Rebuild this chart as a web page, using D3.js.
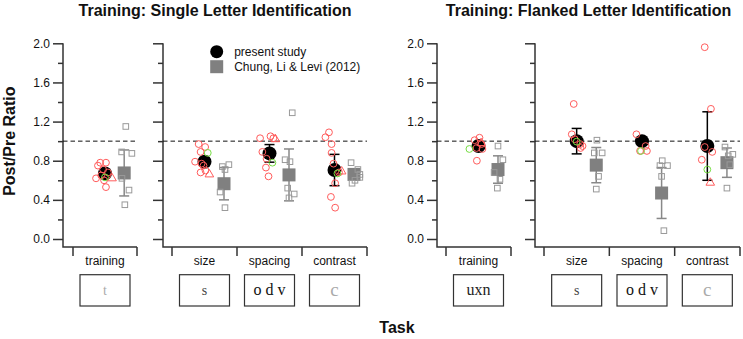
<!DOCTYPE html>
<html>
<head>
<meta charset="utf-8">
<script src="https://cdn.jsdelivr.net/npm/d3@7"></script>
<style>
    body { margin: 0; background: #fff; }
    svg { display: block; font-family: 'Liberation Sans', Arial, sans-serif; }
</style>
</head>
<body>
<svg id="chart" width="743" height="339"></svg>
<script>
// values, one entry per condition
const conditions = ['single-training', 'single-size', 'single-spacing', 'single-contrast',
    'flanked-training', 'flanked-size', 'flanked-spacing', 'flanked-contrast']
const taskLabels = ['training', 'size', 'spacing', 'contrast', 'training', 'size', 'spacing', 'contrast']
const stimulusText = ['t', 's', 'o d v', 'c', 'uxn', 's', 'o d v', 'c']
const panelTitles = ['Training: Single Letter Identification', 'Training: Flanked Letter Identification']
const legendLabels = ['present study', 'Chung, Li & Levi (2012)']
const yTicks = [0, 0.2, 0.4, 0.6, 0.8, 1.0, 1.2, 1.4, 1.6, 1.8, 2.0]
const yLabelled = [0, 0.4, 0.8, 1.2, 1.6, 2.0]

const presentMean = [0.67, 0.79, 0.875, 0.705, 0.95, 1.00, 1.00, 0.95]
const presentErr = [0.03, 0.04, 0.09, 0.16, 0.03, 0.13, 0.03, 0.35]
const chungMean = [0.675, 0.565, 0.655, 0.66, 0.71, 0.755, 0.47, 0.78]
const chungErr = [0.235, 0.165, 0.265, 0.05, 0.14, 0.18, 0.26, 0.15]

// individual observers: [ratio, jitter (fraction of half a category)]
const presentCircles = [
    [[0.78, -0.15], [0.78, 0.03], [0.75, -0.22], [0.71, -0.06], [0.68, 0.09], [0.65, -0.12], [0.62, -0.28], [0.60, -0.03], [0.53, 0.03]],
    [[0.97, -0.18], [0.94, 0.02], [0.89, -0.12], [0.79, -0.29], [0.77, -0.09], [0.75, -0.03], [0.68, -0.12], [0.70, 0.03]],
    [[1.03, -0.29], [1.05, 0.03], [1.03, 0.12], [0.89, -0.22], [0.82, -0.09], [0.73, -0.11], [0.64, -0.03]],
    [[1.09, -0.17], [1.04, -0.28], [0.97, -0.09], [0.88, -0.09], [0.77, -0.03], [0.68, 0.14], [0.57, 0.02], [0.43, -0.11], [0.32, 0.02]],
    [[1.01, -0.12], [1.035, 0.03], [0.97, 0.09], [0.93, -0.06], [0.92, 0.12], [0.80, -0.05]],
    [[1.38, -0.09], [1.07, -0.15], [1.02, -0.06], [0.97, 0.11], [0.95, 0.18], [0.93, 0.12]],
    [[1.07, -0.17], [0.90, -0.06], [0.90, 0.15], [0.95, 0.11]],
    [[1.96, -0.08], [1.33, 0.11], [0.94, -0.08], [0.89, 0.15], [0.81, -0.17]]
]
const presentTriangles = [
    [[0.62, 0.22]], [[0.66, 0.15]], [[1.02, 0.18]], [[0.69, 0.22]],
    [[0.98, 0.08]], [], [], [[0.575, 0.09]]
]
const presentGreen = [
    [[0.63, 0]], [[0.88, 0.1]], [[0.78, 0.09]], [[0.67, 0.09]],
    [[0.92, -0.28]], [[0.995, 0]], [[0.90, -0.03]], [[0.71, 0]]
]
const chungSquares = [
    [[1.15, 0.05], [0.89, -0.08], [0.875, 0.24], [0.62, -0.07], [0.50, 0.15], [0.35, 0.02]],
    [[0.76, 0.15], [0.74, -0.05], [0.71, 0.03], [0.48, -0.12], [0.32, 0.03]],
    [[1.29, 0.1], [0.81, -0.12], [0.79, 0.03], [0.52, -0.04], [0.46, 0.16], [0.42, 0]],
    [[0.78, -0.09], [0.71, 0.12], [0.66, 0.18], [0.63, 0.18], [0.60, 0.03], [0.57, -0.06]],
    [[0.95, 0], [0.81, 0.15], [0.68, -0.12], [0.61, 0.06], [0.52, -0.02]],
    [[1.01, 0.02], [0.88, -0.06], [0.88, 0.18], [0.64, 0.07], [0.51, 0]],
    [[0.80, 0.02], [0.75, -0.05], [0.75, 0.18], [0.64, 0], [0.085, 0.07]],
    [[0.94, -0.06], [0.865, 0.18], [0.85, 0.04], [0.76, 0.09], [0.52, 0]]
]

// layout
const panels = [
    { axisX: 63, x0: 73, x1: 137, cats: [0], labels: true },
    { axisX: 163, x0: 172, x1: 367, cats: [1, 2, 3], labels: false },
    { axisX: 437, x0: 446, x1: 511, cats: [4], labels: true },
    { axisX: 535, x0: 544, x1: 740, cats: [5, 6, 7], labels: false }
]
const stimStyle = {
    't': { size: 14, color: '#aaa' },
    's': { size: 14, color: '#444' },
    'o d v': { size: 16, color: '#111' },
    'c': { size: 19, color: '#aaa' },
    'uxn': { size: 16, color: '#222' }
}
const axisColor = '#333'
const red = '#ff5c5c'
const green = '#77dd44'
const grey = '#808080'

const svg = d3.select('#chart')
const y = d3.scaleLinear().domain([0, 2]).range([239, 43.3])
const axisBottomY = 247

panels.forEach(p => {
    const x = d3.scaleBand().domain(p.cats).range([p.x0, p.x1])
    const half = x.bandwidth() / 2
    const jit = d3.scaleLinear().domain([-1, 1]).range([-half, half])
    const g = svg.append('g')

    // y axis ticks
    const axis = g.append('g')
        .attr('transform', `translate(${p.axisX},0)`)
        .call(d3.axisLeft(y).tickValues(yTicks).tickSize(0).tickFormat(''))
    axis.select('.domain').remove()
    axis.selectAll('.tick line')
        .attr('x2', d => yLabelled.some(v => Math.abs(v - d) < 1e-6) ? -10 : -5)
        .attr('stroke', axisColor).attr('stroke-width', 1.5)
    if (p.labels) {
        axis.selectAll('.tick text')
            .text(d => yLabelled.some(v => Math.abs(v - d) < 1e-6) ? d3.format('.1f')(d) : '')
            .attr('x', -13)
            .attr('fill', '#111')
            .style('font-size', '12px')
            .style('font-family', "'Liberation Sans', Arial, sans-serif")
    }

    // L-shaped axis line plus category bracket
    g.append('path')
        .attr('d', `M${p.axisX},${y(2)}V${axisBottomY}H${p.x1}`)
        .attr('fill', 'none').attr('stroke', axisColor).attr('stroke-width', 1.5)
    const bounds = p.cats.map(c => x(c)).concat([p.x1])
    g.selectAll('.bracket')
        .data(bounds)
        .enter().append('line')
        .attr('x1', d => d).attr('x2', d => d)
        .attr('y1', axisBottomY).attr('y2', axisBottomY + 9)
        .attr('stroke', axisColor).attr('stroke-width', 1.5)

    // reference line at 1.0
    g.append('line')
        .attr('x1', p.axisX).attr('x2', p.x1)
        .attr('y1', y(1)).attr('y2', y(1))
        .attr('stroke', '#111').attr('stroke-width', 1)
        .attr('stroke-dasharray', '4.5,3')

    p.cats.forEach(c => {
        const cx = x(c) + half
        const gx = cx + jit(0.6) - jit(0)

        // task label + stimulus box
        g.append('text')
            .attr('x', cx).attr('y', 264.5)
            .attr('text-anchor', 'middle')
            .style('font-size', '12px')
            .attr('fill', '#111')
            .text(taskLabels[c])
        g.append('rect')
            .attr('x', cx - 25).attr('y', 274.7)
            .attr('width', 50).attr('height', 31.3)
            .attr('fill', '#fff').attr('stroke', axisColor).attr('stroke-width', 1.2)
        const st = stimStyle[stimulusText[c]]
        g.append('text')
            .attr('x', cx).attr('y', 290.3)
            .attr('dy', '0.32em')
            .attr('text-anchor', 'middle')
            .style('font-family', "'Liberation Serif', 'Times New Roman', serif")
            .style('font-size', st.size + 'px')
            .attr('fill', st.color)
            .text(stimulusText[c])

        // Chung et al. group
        g.append('line')
            .attr('x1', gx).attr('x2', gx)
            .attr('y1', y(chungMean[c] + chungErr[c])).attr('y2', y(chungMean[c] - chungErr[c]))
            .attr('stroke', '#888').attr('stroke-width', 1.5)
        g.selectAll(null)
            .data([chungMean[c] + chungErr[c], chungMean[c] - chungErr[c]])
            .enter().append('line')
            .attr('x1', gx - 5).attr('x2', gx + 5)
            .attr('y1', d => y(d)).attr('y2', d => y(d))
            .attr('stroke', '#888').attr('stroke-width', 1.5)
        g.append('rect')
            .attr('x', gx - 6.5).attr('y', y(chungMean[c]) - 6.5)
            .attr('width', 13).attr('height', 13)
            .attr('fill', grey)
        g.selectAll(null)
            .data(chungSquares[c])
            .enter().append('rect')
            .attr('x', d => gx + jit(d[1]) - jit(0) - 2.8)
            .attr('y', d => y(d[0]) - 2.8)
            .attr('width', 5.6).attr('height', 5.6)
            .attr('fill', 'none').attr('stroke', '#999').attr('stroke-width', 1)

        // present study
        g.append('line')
            .attr('x1', cx).attr('x2', cx)
            .attr('y1', y(presentMean[c] + presentErr[c])).attr('y2', y(presentMean[c] - presentErr[c]))
            .attr('stroke', '#000').attr('stroke-width', 1.5)
        g.selectAll(null)
            .data([presentMean[c] + presentErr[c], presentMean[c] - presentErr[c]])
            .enter().append('line')
            .attr('x1', cx - 5).attr('x2', cx + 5)
            .attr('y1', d => y(d)).attr('y2', d => y(d))
            .attr('stroke', '#000').attr('stroke-width', 1.5)
        g.append('circle')
            .attr('cx', cx).attr('cy', y(presentMean[c]))
            .attr('r', 7).attr('fill', '#000')
        g.selectAll(null)
            .data(presentCircles[c])
            .enter().append('circle')
            .attr('cx', d => cx + jit(d[1]) - jit(0))
            .attr('cy', d => y(d[0]))
            .attr('r', 3.4)
            .attr('fill', 'none').attr('stroke', red).attr('stroke-width', 1)
        g.selectAll(null)
            .data(presentTriangles[c])
            .enter().append('path')
            .attr('d', d3.symbol(d3.symbolTriangle, 32))
            .attr('transform', d => `translate(${cx + jit(d[1]) - jit(0)},${y(d[0])})`)
            .attr('fill', 'none').attr('stroke', red).attr('stroke-width', 1)
        g.selectAll(null)
            .data(presentGreen[c])
            .enter().append('circle')
            .attr('cx', d => cx + jit(d[1]) - jit(0))
            .attr('cy', d => y(d[0]))
            .attr('r', 3.4)
            .attr('fill', 'none').attr('stroke', green).attr('stroke-width', 1)
    })
})

// titles
svg.selectAll('.title')
    .data(panelTitles)
    .enter().append('text')
    .attr('x', (d, i) => i === 0 ? (panels[0].axisX + panels[1].x1) / 2 : (panels[2].axisX + panels[3].x1) / 2)
    .attr('y', 15.5)
    .attr('text-anchor', 'middle')
    .style('font-size', '16px').style('font-weight', 'bold')
    .attr('fill', '#111')
    .text(d => d)

svg.append('text')
    .attr('transform', `translate(15,${y(1)}) rotate(-90)`)
    .attr('text-anchor', 'middle')
    .style('font-size', '16px').style('font-weight', 'bold')
    .attr('fill', '#111')
    .text('Post/Pre Ratio')

svg.append('text')
    .attr('x', 397).attr('y', 333)
    .attr('text-anchor', 'middle')
    .style('font-size', '16px').style('font-weight', 'bold')
    .attr('fill', '#111')
    .text('Task')

// legend
const legend = svg.append('g').attr('transform', 'translate(216.7,51.7)')
legend.append('circle').attr('r', 6.5).attr('fill', '#000')
legend.append('rect').attr('x', -6.5).attr('y', 15 - 6.5).attr('width', 13).attr('height', 13).attr('fill', grey)
legend.selectAll('text')
    .data(legendLabels)
    .enter().append('text')
    .attr('x', 17.5).attr('y', (d, i) => i * 15)
    .attr('dy', '0.35em')
    .style('font-size', '12px')
    .attr('fill', '#111')
    .text(d => d)
</script>
</body>
</html>
